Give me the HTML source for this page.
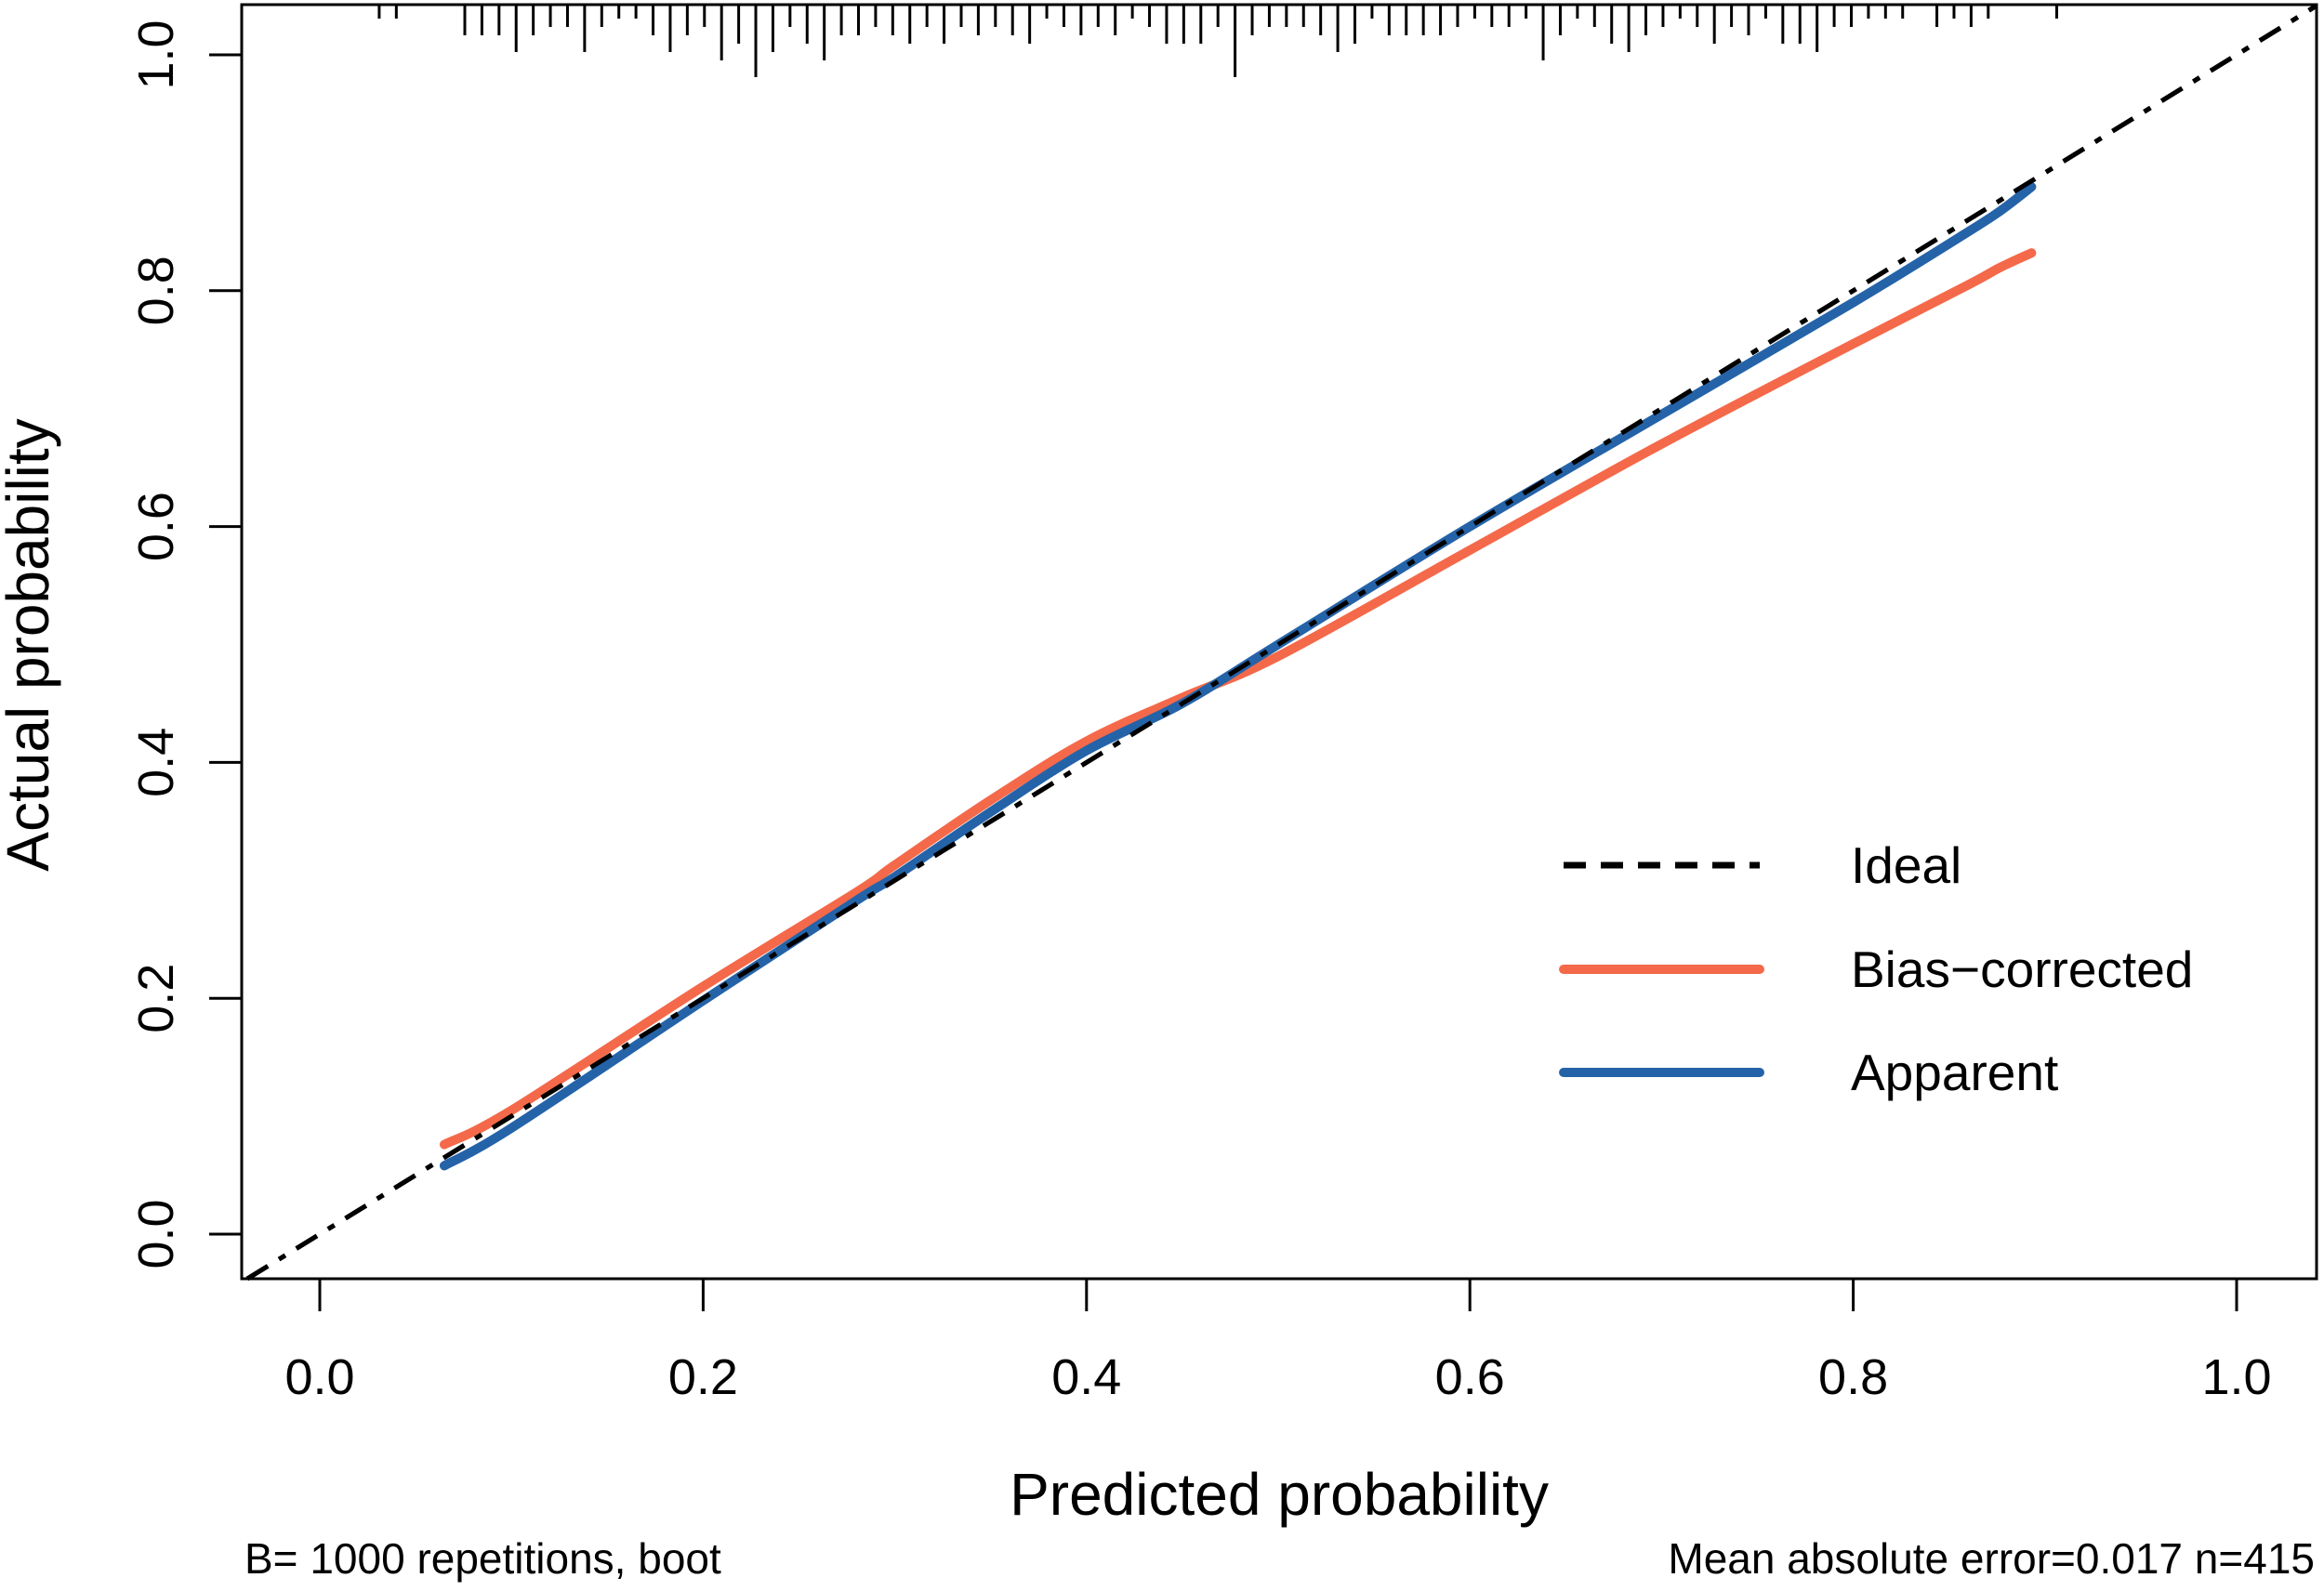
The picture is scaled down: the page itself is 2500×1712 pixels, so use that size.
<!DOCTYPE html>
<html><head><meta charset="utf-8"><style>
html,body{margin:0;padding:0;background:#fff;}
svg{display:block;font-family:"Liberation Sans",Arial,sans-serif;}
</style></head><body>
<svg id="chart" width="2500" height="1712" viewBox="0 0 2500 1712" xmlns="http://www.w3.org/2000/svg">
<rect x="0" y="0" width="2500" height="1712" fill="#fff"/>
<g id="plot"></g>
<rect x="260" y="5" width="2232" height="1371" fill="none" stroke="#000" stroke-width="3"/>
<text x="1376" y="1630" font-size="64" text-anchor="middle">Predicted probability</text>
<text transform="translate(52,694) rotate(-90)" font-size="64" text-anchor="middle">Actual probability</text>
<text x="263" y="1693" font-size="46">B= 1000 repetitions, boot</text>
<text x="2490" y="1693" font-size="46" text-anchor="end">Mean absolute error=0.017 n=415</text>
<g>
<line x1="1682" y1="931" x2="1893" y2="931" stroke="#000" stroke-width="7" stroke-dasharray="24,16"/>
<text x="1991" y="950" font-size="55">Ideal</text>
<line x1="1682" y1="1043" x2="1893" y2="1043" stroke="#F4694A" stroke-width="10" stroke-linecap="round"/>
<text x="1991" y="1062" font-size="55">Bias−corrected</text>
<line x1="1682" y1="1154" x2="1893" y2="1154" stroke="#2563A8" stroke-width="10" stroke-linecap="round"/>
<text x="1991" y="1173" font-size="55">Apparent</text>
</g>
</svg>
<script>
const xTicks=[0,0.2,0.4,0.6,0.8,1.0];
const xTickLabels=["0.0","0.2","0.4","0.6","0.8","1.0"];
const yTicks=[0,0.2,0.4,0.6,0.8,1.0];
const yTickLabels=["0.0","0.2","0.4","0.6","0.8","1.0"];
const predicted=[0.065,0.1,0.2,0.28,0.3,0.35,0.4,0.45,0.5,0.6,0.7,0.8,0.86,0.877,0.893];
const biasCorrected=[0.076,0.105,0.21,0.29,0.313,0.368,0.418,0.455,0.49,0.58,0.67,0.755,0.805,0.82,0.832];
const apparent=[0.058,0.09,0.198,0.283,0.303,0.358,0.41,0.45,0.5,0.6,0.695,0.79,0.85,0.868,0.888];
const rugStart=0.031;
const rugCounts=[1,1,0,0,0,3,3,3,5,3,2,2,5,2,1,1,3,5,3,2,6,4,8,5,2,4,6,3,3,2,3,4,2,4,2,3,2,3,4,1,2,3,2,3,1,2,4,4,4,2,8,3,2,2,2,3,5,4,1,3,3,3,3,2,1,2,2,1,6,3,1,2,4,5,3,2,1,2,4,2,3,1,4,4,5,2,2,1,1,1,0,2,1,2,1,0,0,0,1];
const rugStep=0.00893;
const X=v=>344+v*2062, Y=v=>1328-v*1269;
const g=document.getElementById('plot');
const NS='http://www.w3.org/2000/svg';
function mk(t,a){const e=document.createElementNS(NS,t);for(const k in a)e.setAttribute(k,a[k]);g.appendChild(e);return e;}
xTicks.forEach((v,i)=>{
 const l=mk('line',{x1:X(v),x2:X(v),y1:1376,y2:1411,stroke:'#000','stroke-width':3});
 
 
 const t=mk('text',{x:X(v),y:1500,'font-size':54,'text-anchor':'middle'});t.textContent=xTickLabels[i];
 
 
});
yTicks.forEach((v,i)=>{
 const l=mk('line',{x1:225,x2:260,y1:Y(v),y2:Y(v),stroke:'#000','stroke-width':3});
 
 
 const t=mk('text',{transform:`translate(186,${Y(v)}) rotate(-90)`,'font-size':54,'text-anchor':'middle'});t.textContent=yTickLabels[i];
 
 
});
rugCounts.forEach((c,i)=>{
 if(!c)return;
 const x=X(rugStart+i*rugStep);
 const r=mk('line',{x1:x,x2:x,y1:5,y2:5+c*9+6,stroke:'#000','stroke-width':3});
 
 
});
const x0=(260-344)/2062, x1=(2492-344)/2062;
const y0=(1328-1376)/1269;
const a=Math.max(x0,y0), b=Math.min(x1,(1328-5)/1269);
const ideal=mk('line',{x1:X(a),y1:Y(a),x2:X(b),y2:Y(b),stroke:'#000','stroke-width':5,'stroke-dasharray':'26,14,8,14'});


function path(ys){
 const p=predicted.map((v,i)=>[X(v),Y(ys[i])]);
 let d='M'+p[0][0].toFixed(1)+','+p[0][1].toFixed(1);
 for(let i=0;i<p.length-1;i++){
  const p0=p[Math.max(0,i-1)],p1=p[i],p2=p[i+1],p3=p[Math.min(p.length-1,i+2)];
  const c1=[p1[0]+(p2[0]-p0[0])/6,p1[1]+(p2[1]-p0[1])/6];
  const c2=[p2[0]-(p3[0]-p1[0])/6,p2[1]-(p3[1]-p1[1])/6];
  d+=' C'+c1.map(n=>n.toFixed(1)).join(',')+' '+c2.map(n=>n.toFixed(1)).join(',')+' '+p2.map(n=>n.toFixed(1)).join(',');
 }
 return d;
}
const bc=mk('path',{d:path(biasCorrected),fill:'none',stroke:'#F4694A','stroke-width':10,'stroke-linejoin':'round','stroke-linecap':'round'});


const ap=mk('path',{d:path(apparent),fill:'none',stroke:'#2563A8','stroke-width':10,'stroke-linejoin':'round','stroke-linecap':'round'});


const id2=mk('line',{x1:X(a),y1:Y(a),x2:X(b),y2:Y(b),stroke:'#000','stroke-width':5,'stroke-dasharray':'26,14,8,14'});


</script>
</body></html>
